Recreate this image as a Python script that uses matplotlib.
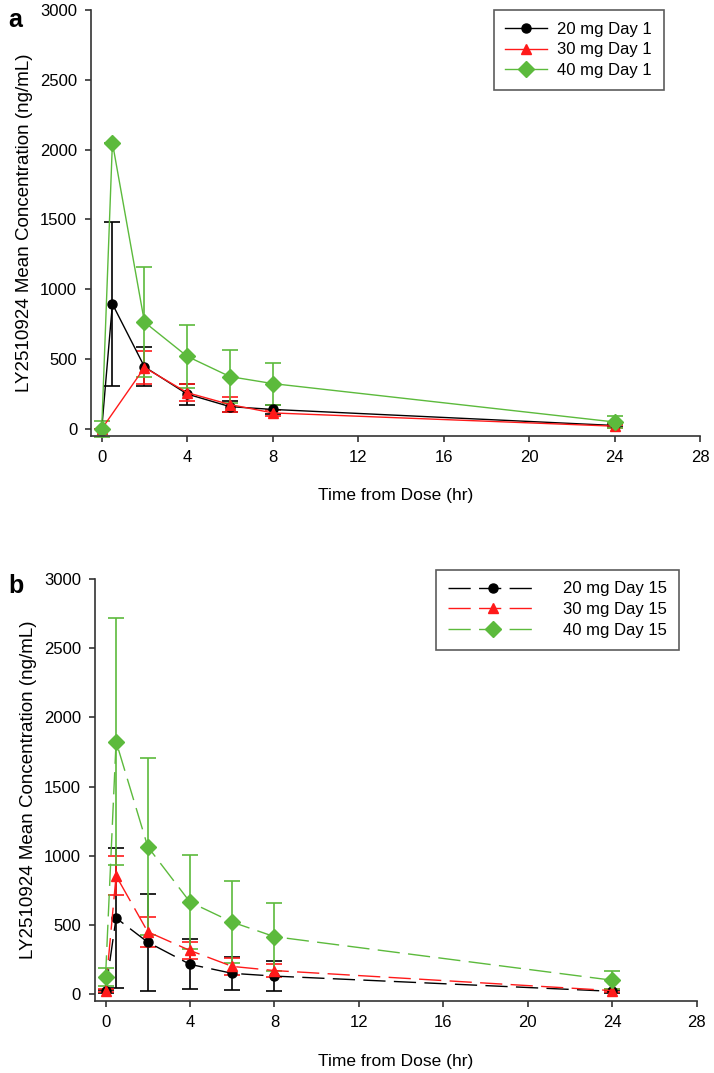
import numpy as np
import matplotlib
matplotlib.use('Agg')
import matplotlib.pyplot as plt
from matplotlib.lines import Line2D

plt.rcParams['font.family'] = ['Liberation Sans', 'DejaVu Sans']

# Day 1 data (time in hr, mean conc ng/mL, SD)
t = [0, 0.5, 2, 4, 6, 8, 24]
t_30d1 = [0, 2, 4, 6, 8, 24]

d1_20 = [0, 895, 445, 250, 160, 140, 25]
d1_20_sd = [0, 590, 140, 75, 40, 35, 10]
d1_30 = [0, 440, 260, 175, 115, 20]
d1_30_sd = [0, 120, 60, 55, 20, 10]
d1_40 = [0, 2050, 765, 520, 375, 325, 50]
d1_40_sd = [55, 0, 395, 228, 192, 150, 40]

# Day 15 data
d15_20 = [20, 550, 375, 215, 150, 130, 20]
d15_20_sd = [10, 505, 350, 180, 120, 110, 10]
d15_30 = [25, 855, 450, 315, 200, 170, 25]
d15_30_sd = [10, 140, 110, 60, 60, 50, 10]
d15_40 = [120, 1825, 1065, 665, 520, 415, 100]
d15_40_sd = [65, 895, 640, 340, 295, 245, 65]

labels_d1 = ['20 mg Day 1', '30 mg Day 1', '40 mg Day 1']
labels_d15 = ['20 mg Day 15', '30 mg Day 15', '40 mg Day 15']

black = '#000000'
red = '#ff1a1a'
green = '#5cba3c'
dash = (0, (16, 6))

fig = plt.figure(figsize=(7.14, 10.73), dpi=100)
ax1 = fig.add_axes([0.1275, 0.5937, 0.853, 0.397])
ax2 = fig.add_axes([0.133, 0.0671, 0.843, 0.3933])


def style(ax):
    ax.set_xlim(-0.5, 28)
    ax.set_ylim(-50, 3000)
    ax.set_xticks(range(0, 29, 4))
    ax.set_yticks(range(0, 3001, 500))
    for s in ['top', 'right']:
        ax.spines[s].set_visible(False)
    for s in ['left', 'bottom']:
        ax.spines[s].set_linewidth(1.2)
        ax.spines[s].set_color('#333333')
    ax.tick_params(direction='out', length=4, width=1.2, color='#333333',
                   labelsize=12, pad=6)
    ax.set_xlabel('Time from Dose (hr)', fontsize=12.5, labelpad=17)
    ax.set_ylabel('LY2510924 Mean Concentration (ng/mL)', fontsize=13.5, labelpad=5)


series1 = [
    (t, d1_20, d1_20_sd, black, 'o', 6.5, labels_d1[0]),
    (t_30d1, d1_30, d1_30_sd, red, '^', 7.5, labels_d1[1]),
    (t, d1_40, d1_40_sd, green, 'D', 8, labels_d1[2]),
]
h1 = []
for x, y, e, c, m, ms, lab in series1:
    ax1.errorbar(x, y, yerr=e, color=c, marker=m, markersize=ms, lw=1.0,
                 elinewidth=1.2, capsize=6, capthick=1.2, clip_on=False)
    h1.append(Line2D([], [], color=c, marker=m, markersize=ms, lw=1.0, label=lab))

series2 = [
    (t, d15_20, d15_20_sd, black, 'o', 6.5, labels_d15[0]),
    (t, d15_30, d15_30_sd, red, '^', 7.5, labels_d15[1]),
    (t, d15_40, d15_40_sd, green, 'D', 8, labels_d15[2]),
]
h2 = []
for x, y, e, c, m, ms, lab in series2:
    ax2.errorbar(x, y, yerr=e, color=c, marker=m, markersize=ms, lw=1.0,
                 linestyle=dash, elinewidth=1.2, capsize=6, capthick=1.2,
                 clip_on=False)
    h2.append(Line2D([], [], color=c, marker=m, markersize=ms, lw=1.0,
                     linestyle=dash, label=lab))

style(ax1)
style(ax2)

leg1 = ax1.legend(handles=h1, loc='upper right', bbox_to_anchor=(0.94, 1.0),
                  fontsize=12, frameon=True, fancybox=False, edgecolor='#333333',
                  handlelength=2.5, handletextpad=0.6, labelspacing=0.35,
                  borderpad=0.7, borderaxespad=0)
leg1.get_frame().set_linewidth(1.2)
leg2 = ax2.legend(handles=h2, loc='upper right', bbox_to_anchor=(0.97, 1.022),
                  fontsize=12, frameon=True, fancybox=False, edgecolor='#333333',
                  handlelength=5.4, handletextpad=1.5, labelspacing=0.35,
                  borderpad=0.7, borderaxespad=0)
leg2.get_frame().set_linewidth(1.2)

fig.text(0.012, 0.993, 'a', fontsize=18, fontweight='bold', va='top')
fig.text(0.012, 0.465, 'b', fontsize=18, fontweight='bold', va='top')

fig.savefig('out.png', dpi=100)
